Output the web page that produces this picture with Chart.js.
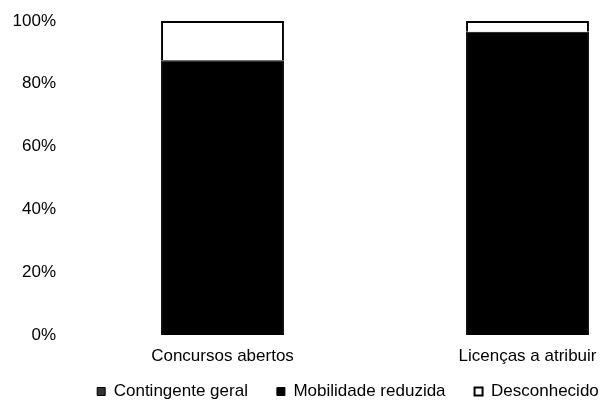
<!DOCTYPE html>
<html>
<head>
<meta charset="utf-8">
<script src="https://cdn.jsdelivr.net/npm/chart.js@4"></script>
<style>
  html, body { margin: 0; padding: 0; background: #fff; overflow: hidden; }
  #wrap { position: relative; width: 739px; height: 403px; }
</style>
</head>
<body>
<div id="wrap"><canvas id="chart"></canvas></div>
<script>
// categories and stacked shares (%)
const categories = ['Concursos abertos', 'Licenças a atribuir'];
const contingenteGeral = [0, 0];
const mobilidadeReduzida = [87.5, 96.6];
const desconhecido = [12.5, 3.4];
const yTicks = [0, 20, 40, 60, 80, 100];

Chart.defaults.font.family = "'Liberation Sans', Arial, sans-serif";
Chart.defaults.font.size = 17;
Chart.defaults.color = '#000';

// legend keeps wide gaps between items but only a short strip of height,
// and sits a little right of the canvas centre like the original
const legendHeight = {
    id: 'legendHeight',
    beforeLayout(chart) {
        const lg = chart.legend;
        if (!lg || lg._fixed) return;
        const fit = lg.fit;
        const draw = lg.draw;
        lg.fit = function () { fit.call(this); this.height = 30; };
        lg.draw = function () {
            const top = this.top, left = this.left, right = this.right;
            this.top = top - 19;
            this.left = left + 8;
            this.right = right + 8;
            draw.call(this);
            this.top = top;
            this.left = left;
            this.right = right;
        };
        lg._fixed = true;
    }
};

new Chart(document.getElementById('chart'), {
    type: 'bar',
    data: {
        labels: categories,
        datasets: [
            { label: 'Contingente geral', data: contingenteGeral, backgroundColor: '#333', borderColor: '#000', borderWidth: 1 },
            { label: 'Mobilidade reduzida', data: mobilidadeReduzida, backgroundColor: '#000', borderColor: '#000', borderWidth: 1 },
            { label: 'Desconhecido', data: desconhecido, backgroundColor: '#fff', borderColor: '#000', borderWidth: 2 }
        ]
    },
    options: {
        responsive: true,
        maintainAspectRatio: false,
        animation: false,
        layout: { padding: { top: 0, right: 59, left: 0, bottom: 0 } },
        datasets: { bar: { categoryPercentage: 1, barPercentage: 0.403 } },
        scales: {
            x: {
                stacked: true,
                grid: { display: false, drawTicks: false },
                border: { display: false },
                ticks: { padding: 11 },
                afterFit: s => { s.height = 38; }
            },
            y: {
                stacked: true,
                min: 0,
                max: 100,
                grid: { display: false, drawTicks: false },
                border: { display: false },
                afterBuildTicks: s => { s.ticks = yTicks.map(v => ({ value: v })); },
                ticks: { padding: 14, callback: v => v + '%' },
                afterFit: s => { s.width = 70; s.paddingTop = 21; }
            }
        },
        plugins: {
            legend: {
                position: 'bottom',
                labels: { boxWidth: 8, boxHeight: 8, padding: 29, color: '#000' }
            },
            tooltip: { enabled: false }
        }
    },
    plugins: [legendHeight]
});
</script>
</body>
</html>
